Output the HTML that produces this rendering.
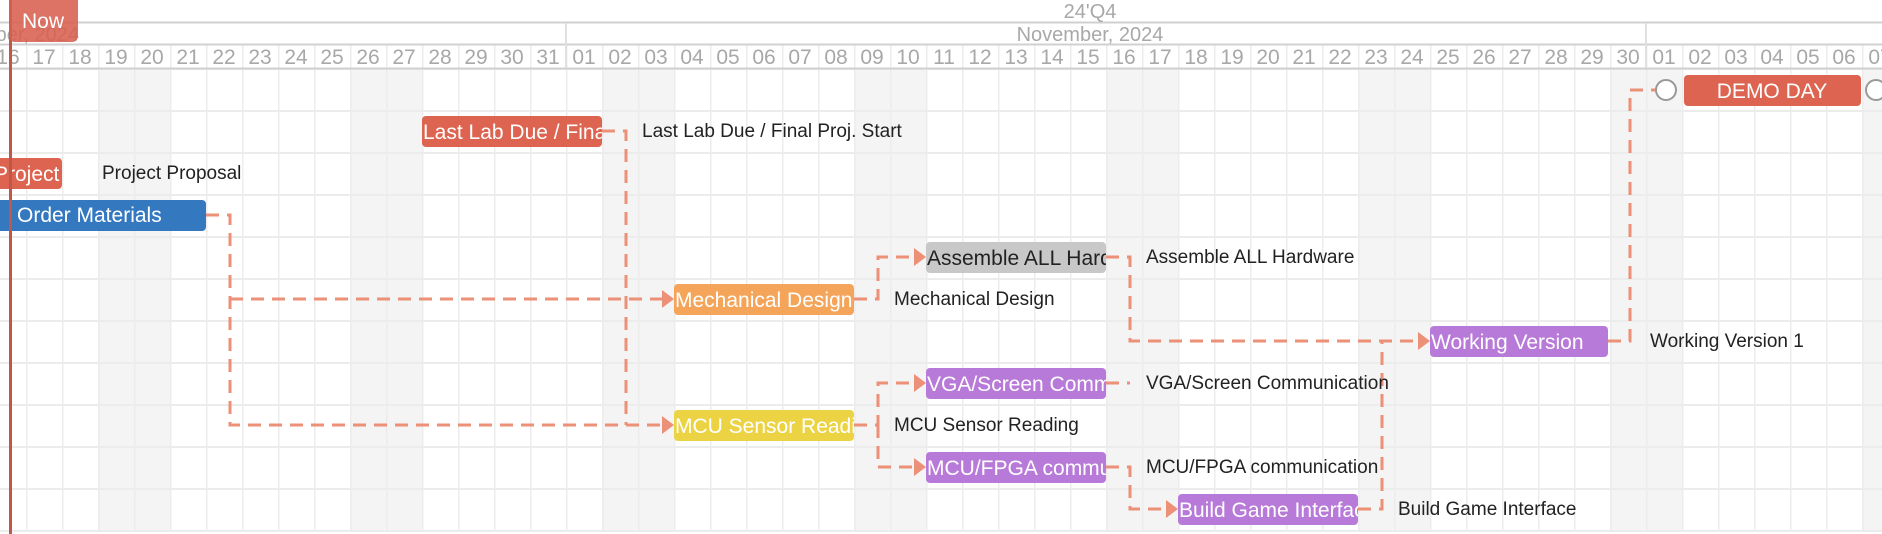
<!DOCTYPE html>
<html><head><meta charset="utf-8"><style>
html,body{margin:0;padding:0;background:#fff;width:1882px;height:534px;overflow:hidden}
svg{display:block}
.d{font-family:"Liberation Sans",sans-serif;font-size:21px;fill:#a8a8a8;text-anchor:middle}
.h{font-family:"Liberation Sans",sans-serif;font-size:20px;fill:#a8a8a8;text-anchor:middle}
.b{font-family:"Liberation Sans",sans-serif;font-size:21px;fill:#fff}
.l{font-family:"Liberation Sans",sans-serif;font-size:19px;fill:#222}
.c{fill:none;stroke:#ec9078;stroke-width:3;stroke-dasharray:13 8}
.a{fill:#ec9078}
</style></head><body>
<svg width="1882" height="534" viewBox="0 0 1882 534" xmlns="http://www.w3.org/2000/svg">
<defs>
<pattern id="vg" x="-10" y="0" width="36" height="42" patternUnits="userSpaceOnUse">
<line x1="0.5" y1="0" x2="0.5" y2="42" stroke="#ececec" stroke-width="2"/>
</pattern>
<pattern id="hg" x="0" y="68" width="36" height="42" patternUnits="userSpaceOnUse">
<line x1="0" y1="1" x2="36" y2="1" stroke="#ececec" stroke-width="2"/>
</pattern>
<clipPath id="c1"><rect x="422" y="116" width="180" height="31" rx="4"/></clipPath>
<clipPath id="c2"><rect x="-10" y="158" width="72" height="31" rx="4"/></clipPath>
<clipPath id="c3"><rect x="926" y="242" width="180" height="31" rx="4"/></clipPath>
<clipPath id="c4"><rect x="674" y="284" width="180" height="31" rx="4"/></clipPath>
<clipPath id="c5"><rect x="926" y="368" width="180" height="31" rx="4"/></clipPath>
<clipPath id="c6"><rect x="674" y="410" width="180" height="31" rx="4"/></clipPath>
<clipPath id="c7"><rect x="926" y="452" width="180" height="31" rx="4"/></clipPath>
<clipPath id="c8"><rect x="1178" y="494" width="180" height="31" rx="4"/></clipPath>
</defs>
<g fill="#f4f4f4">
<rect x="98" y="69" width="72" height="462"/><rect x="350" y="69" width="72" height="462"/>
<rect x="602" y="69" width="72" height="462"/><rect x="854" y="69" width="72" height="462"/>
<rect x="1106" y="69" width="72" height="462"/><rect x="1358" y="69" width="72" height="462"/>
<rect x="1610" y="69" width="72" height="462"/><rect x="1862" y="69" width="72" height="462"/>
</g>
<rect x="0" y="44" width="1882" height="487" fill="url(#vg)"/>
<rect x="0" y="68" width="1882" height="464" fill="url(#hg)"/>
<rect x="0" y="0" width="1882" height="22" fill="#fff"/>
<line x1="0" y1="22.5" x2="1882" y2="22.5" stroke="#d0d0d0" stroke-width="2"/>
<line x1="0" y1="44.5" x2="1882" y2="44.5" stroke="#d0d0d0" stroke-width="2"/>
<line x1="0" y1="68.5" x2="1882" y2="68.5" stroke="#d0d0d0" stroke-width="2"/>
<line x1="566" y1="23" x2="566" y2="68" stroke="#e0e0e0" stroke-width="2"/>
<line x1="1646" y1="23" x2="1646" y2="68" stroke="#e0e0e0" stroke-width="2"/>
<text class="h" x="1090" y="18">24'Q4</text>
<text class="h" x="1090" y="41">November, 2024</text>
<text class="h" x="79" y="41" style="text-anchor:end">October, 2024</text>
<g>
<text class="d" x="-28" y="64">15</text><text class="d" x="8" y="64">16</text><text class="d" x="44" y="64">17</text><text class="d" x="80" y="64">18</text><text class="d" x="116" y="64">19</text><text class="d" x="152" y="64">20</text><text class="d" x="188" y="64">21</text><text class="d" x="224" y="64">22</text><text class="d" x="260" y="64">23</text><text class="d" x="296" y="64">24</text><text class="d" x="332" y="64">25</text><text class="d" x="368" y="64">26</text><text class="d" x="404" y="64">27</text><text class="d" x="440" y="64">28</text><text class="d" x="476" y="64">29</text><text class="d" x="512" y="64">30</text><text class="d" x="548" y="64">31</text>
<text class="d" x="584" y="64">01</text><text class="d" x="620" y="64">02</text><text class="d" x="656" y="64">03</text><text class="d" x="692" y="64">04</text><text class="d" x="728" y="64">05</text><text class="d" x="764" y="64">06</text><text class="d" x="800" y="64">07</text><text class="d" x="836" y="64">08</text><text class="d" x="872" y="64">09</text><text class="d" x="908" y="64">10</text><text class="d" x="944" y="64">11</text><text class="d" x="980" y="64">12</text><text class="d" x="1016" y="64">13</text><text class="d" x="1052" y="64">14</text><text class="d" x="1088" y="64">15</text><text class="d" x="1124" y="64">16</text><text class="d" x="1160" y="64">17</text><text class="d" x="1196" y="64">18</text><text class="d" x="1232" y="64">19</text><text class="d" x="1268" y="64">20</text><text class="d" x="1304" y="64">21</text><text class="d" x="1340" y="64">22</text><text class="d" x="1376" y="64">23</text><text class="d" x="1412" y="64">24</text><text class="d" x="1448" y="64">25</text><text class="d" x="1484" y="64">26</text><text class="d" x="1520" y="64">27</text><text class="d" x="1556" y="64">28</text><text class="d" x="1592" y="64">29</text><text class="d" x="1628" y="64">30</text>
<text class="d" x="1664" y="64">01</text><text class="d" x="1700" y="64">02</text><text class="d" x="1736" y="64">03</text><text class="d" x="1772" y="64">04</text><text class="d" x="1808" y="64">05</text><text class="d" x="1844" y="64">06</text><text class="d" x="1880" y="64">07</text>
</g>
<path class="c" d="M206,215 H230 V425 H662"/>
<path class="c" d="M230,299 H662"/>
<path class="c" d="M602,131 H626 V425"/>
<path class="c" d="M854,299 H878 V257 H914"/>
<path class="c" d="M854,425 H878 V383 H914"/>
<path class="c" d="M878,425 V467 H914"/>
<path class="c" d="M1106,257 H1130 V341 H1418"/>
<path class="c" d="M1106,383 H1130"/>
<path class="c" d="M1106,467 H1130 V509 H1166"/>
<path class="c" d="M1358,509 H1382 V341"/>
<path class="c" d="M1608,341 H1630 V90 H1656"/>
<g class="a">
<polygon points="662,290 674,299 662,308"/><polygon points="662,416 674,425 662,434"/>
<polygon points="914,248 926,257 914,266"/><polygon points="914,374 926,383 914,392"/>
<polygon points="914,458 926,467 914,476"/><polygon points="1418,332 1430,341 1418,350"/>
<polygon points="1166,500 1178,509 1166,518"/>
</g>
<rect x="1684" y="75" width="177" height="31" rx="4" fill="#dd6450"/>
<text class="b" x="1772" y="98" text-anchor="middle">DEMO DAY</text>
<circle cx="1666" cy="90" r="10" fill="#fff" stroke="#999" stroke-width="2"/>
<circle cx="1876" cy="90" r="10" fill="#fff" stroke="#999" stroke-width="2"/>
<rect x="422" y="116" width="180" height="31" rx="4" fill="#dd6450"/>
<text class="b" x="423" y="139" clip-path="url(#c1)">Last Lab Due / Final Proj. Start</text>
<text class="l" x="642" y="137">Last Lab Due / Final Proj. Start</text>
<rect x="-10" y="158" width="72" height="31" rx="4" fill="#dd6450"/>
<text class="b" x="-6" y="181" clip-path="url(#c2)">Project Proposal</text>
<text class="l" x="102" y="179">Project Proposal</text>
<rect x="-10" y="200" width="216" height="31" rx="4" fill="#3479c0"/>
<text class="b" x="17" y="222">Order Materials</text>
<rect x="926" y="242" width="180" height="31" rx="4" fill="#c8c8c8"/>
<text class="b" x="927" y="265" clip-path="url(#c3)" style="fill:#222">Assemble ALL Hardware</text>
<text class="l" x="1146" y="263">Assemble ALL Hardware</text>
<rect x="674" y="284" width="180" height="31" rx="4" fill="#f5a55a"/>
<text class="b" x="675" y="307" clip-path="url(#c4)">Mechanical Design</text>
<text class="l" x="894" y="305">Mechanical Design</text>
<rect x="1430" y="326" width="178" height="31" rx="4" fill="#b87ad8"/>
<text class="b" x="1431" y="349">Working Version</text>
<text class="l" x="1650" y="347">Working Version 1</text>
<rect x="926" y="368" width="180" height="31" rx="4" fill="#b87ad8"/>
<text class="b" x="927" y="391" clip-path="url(#c5)">VGA/Screen Communication</text>
<text class="l" x="1146" y="389">VGA/Screen Communication</text>
<rect x="674" y="410" width="180" height="31" rx="4" fill="#ecd343"/>
<text class="b" x="675" y="433" clip-path="url(#c6)">MCU Sensor Reading</text>
<text class="l" x="894" y="431">MCU Sensor Reading</text>
<rect x="926" y="452" width="180" height="31" rx="4" fill="#b87ad8"/>
<text class="b" x="927" y="475" clip-path="url(#c7)">MCU/FPGA communication</text>
<text class="l" x="1146" y="473">MCU/FPGA communication</text>
<rect x="1178" y="494" width="180" height="31" rx="4" fill="#b87ad8"/>
<text class="b" x="1179" y="517" clip-path="url(#c8)">Build Game Interface</text>
<text class="l" x="1398" y="515">Build Game Interface</text>
<rect x="9" y="0" width="3" height="534" fill="#c0584a"/>
<rect x="9" y="-6" width="69" height="48" rx="6" fill="#d7604f" opacity="0.88"/>
<text class="b" x="43" y="28" text-anchor="middle" style="font-size:21px">Now</text>
</svg>
</body></html>
